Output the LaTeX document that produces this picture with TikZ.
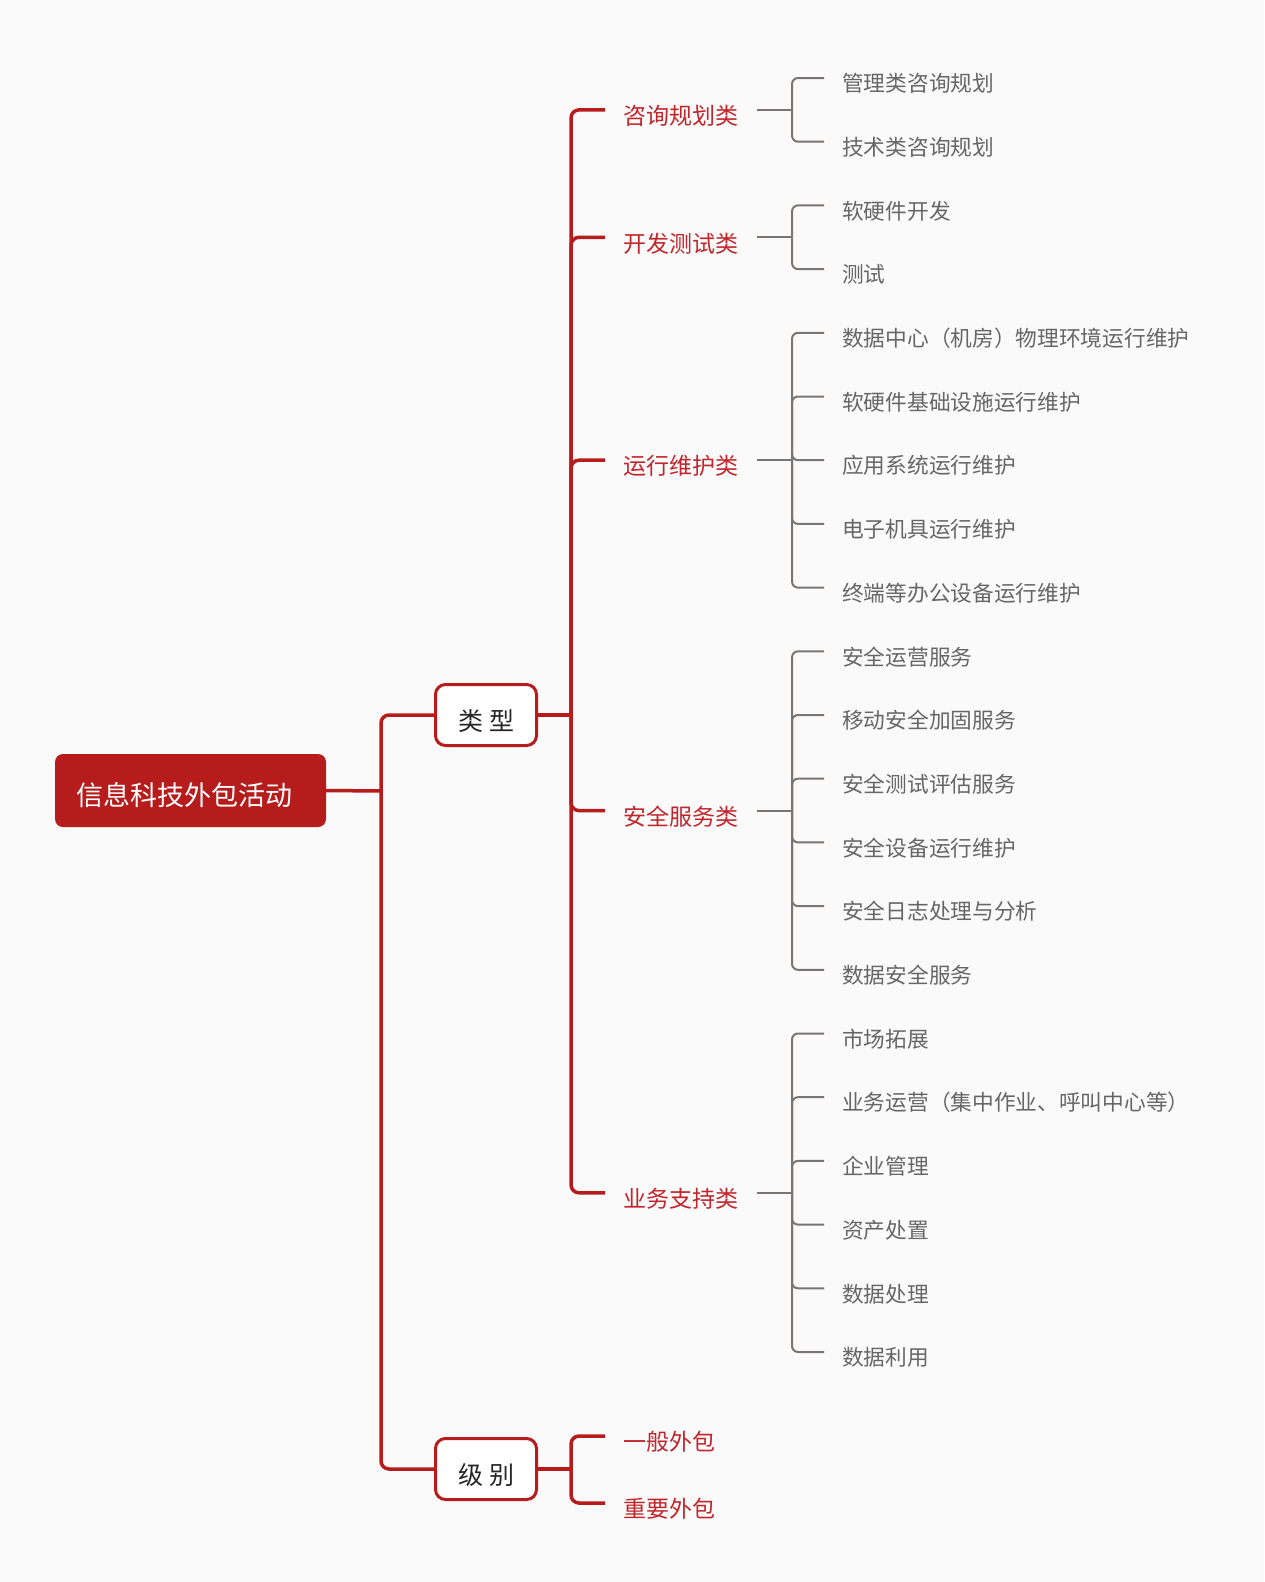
\documentclass[tikz,border=0pt]{standalone}
\usepackage{fontspec}
\setmainfont{Noto Sans CJK SC}
\definecolor{mapred}{HTML}{B71C1C}
\definecolor{catred}{HTML}{C0262B}
\definecolor{leafgray}{HTML}{666666}
\definecolor{linegray}{HTML}{7A7570}
\definecolor{paper}{HTML}{FAFAFA}
\tikzset{
	rootbox/.style = {fill = mapred, rounded corners = 8pt, minimum width = 271pt, minimum height = 73pt, inner sep = 0pt, text = white, font = \fontsize{27}{32}\selectfont, text height = 30.6pt, text depth = 0pt},
	groupbox/.style = {draw = mapred, line width = 3pt, fill = white, rounded corners = 10pt, minimum width = 101pt, minimum height = 61pt, inner sep = 0pt, text = black!85, font = \fontsize{25}{30}\selectfont, text height = 30pt, text depth = 0pt},
	cat/.style = {anchor = west, inner xsep = 18.5pt, inner ysep = 0pt, text = catred, font = \fontsize{23}{28}\selectfont, text height = 29.4pt, text depth = 0pt},
	leaf/.style = {anchor = west, inner xsep = 18pt, inner ysep = 0pt, text = leafgray, font = \fontsize{21.7}{26}\selectfont, text height = 27.4pt, text depth = 0pt},
	redline/.style = {draw = mapred, line width = 3.5pt, rounded corners = 8pt},
	grayline/.style = {draw = linegray, line width = 2pt, rounded corners = 6pt},
}

\begin{document}
\begin{tikzpicture}[x = 1pt, y = -1pt]
		\useasboundingbox [fill = paper] (0, 0) rectangle (1264, 1582);

		\node [rootbox] (root) at (190.5, 790.5) {信息科技外包活动\hspace*{12pt}};
		\node [groupbox] (type) at (486, 715) {类\hspace{6pt}型};
		\node [groupbox] (level) at (486, 1469) {级\hspace{6pt}别};
		\coordinate (rj) at (381, 791);
		\coordinate (tj) at (571, 715);
		\coordinate (lj) at (571, 1469);

		\draw [redline] (root.east) -- (rj);
		\draw [redline] (rj) |- (type.west);
		\draw [redline] (rj) |- (level.west);
		\draw [redline] (type.east) -- (tj);
		\draw [redline] (level.east) -- (lj);

		\node [cat] (consult) at (605, 109.9) {咨询规划类};
		\node [cat] (devtest) at (605, 237.3) {开发测试类};
		\node [cat] (operate) at (605, 460.2) {运行维护类};
		\node [cat] (secure) at (605, 810.6) {安全服务类};
		\node [cat] (support) at (605, 1192.8) {业务支持类};
		\node [cat] (normal) at (605, 1436) {一般外包};
		\node [cat] (major) at (605, 1503) {重要外包};

		\draw [redline] (tj) |- (consult.west);
		\draw [redline] (tj) |- (devtest.west);
		\draw [redline] (tj) |- (operate.west);
		\draw [redline] (tj) |- (secure.west);
		\draw [redline] (tj) |- (support.west);
		\draw [redline] (lj) |- (normal.west);
		\draw [redline] (lj) |- (major.west);

		\node [leaf] (consult-a) at (824, 78.0) {管理类咨询规划};
		\node [leaf] (consult-b) at (824, 141.7) {技术类咨询规划};
		\node [leaf] (devtest-a) at (824, 205.4) {软硬件开发};
		\node [leaf] (devtest-b) at (824, 269.1) {测试};
		\node [leaf] (operate-a) at (824, 332.8) {数据中心（机房）物理环境运行维护};
		\node [leaf] (operate-b) at (824, 396.5) {软硬件基础设施运行维护};
		\node [leaf] (operate-c) at (824, 460.2) {应用系统运行维护};
		\node [leaf] (operate-d) at (824, 523.9) {电子机具运行维护};
		\node [leaf] (operate-e) at (824, 587.6) {终端等办公设备运行维护};
		\node [leaf] (secure-a) at (824, 651.3) {安全运营服务};
		\node [leaf] (secure-b) at (824, 715.0) {移动安全加固服务};
		\node [leaf] (secure-c) at (824, 778.7) {安全测试评估服务};
		\node [leaf] (secure-d) at (824, 842.4) {安全设备运行维护};
		\node [leaf] (secure-e) at (824, 906.1) {安全日志处理与分析};
		\node [leaf] (secure-f) at (824, 969.8) {数据安全服务};
		\node [leaf] (support-a) at (824, 1033.5) {市场拓展};
		\node [leaf] (support-b) at (824, 1097.2) {业务运营（集中作业、呼叫中心等）};
		\node [leaf] (support-c) at (824, 1160.9) {企业管理};
		\node [leaf] (support-d) at (824, 1224.6) {资产处置};
		\node [leaf] (support-e) at (824, 1288.3) {数据处理};
		\node [leaf] (support-f) at (824, 1352.0) {数据利用};

		\coordinate (consult-j) at (792, 109.9);
		\coordinate (devtest-j) at (792, 237.3);
		\coordinate (operate-j) at (792, 460.2);
		\coordinate (secure-j) at (792, 810.6);
		\coordinate (support-j) at (792, 1192.8);

		\draw [grayline] (consult.east) -- (consult-j);
		\draw [grayline] (consult-j) |- (consult-a.west);
		\draw [grayline] (consult-j) |- (consult-b.west);

		\draw [grayline] (devtest.east) -- (devtest-j);
		\draw [grayline] (devtest-j) |- (devtest-a.west);
		\draw [grayline] (devtest-j) |- (devtest-b.west);

		\draw [grayline] (operate.east) -- (operate-j);
		\draw [grayline] (operate-j) |- (operate-a.west);
		\draw [grayline] (operate-j) |- (operate-b.west);
		\draw [grayline] (operate-j) |- (operate-c.west);
		\draw [grayline] (operate-j) |- (operate-d.west);
		\draw [grayline] (operate-j) |- (operate-e.west);

		\draw [grayline] (secure.east) -- (secure-j);
		\draw [grayline] (secure-j) |- (secure-a.west);
		\draw [grayline] (secure-j) |- (secure-b.west);
		\draw [grayline] (secure-j) |- (secure-c.west);
		\draw [grayline] (secure-j) |- (secure-d.west);
		\draw [grayline] (secure-j) |- (secure-e.west);
		\draw [grayline] (secure-j) |- (secure-f.west);

		\draw [grayline] (support.east) -- (support-j);
		\draw [grayline] (support-j) |- (support-a.west);
		\draw [grayline] (support-j) |- (support-b.west);
		\draw [grayline] (support-j) |- (support-c.west);
		\draw [grayline] (support-j) |- (support-d.west);
		\draw [grayline] (support-j) |- (support-e.west);
		\draw [grayline] (support-j) |- (support-f.west);
	\end{tikzpicture}
\end{document}
